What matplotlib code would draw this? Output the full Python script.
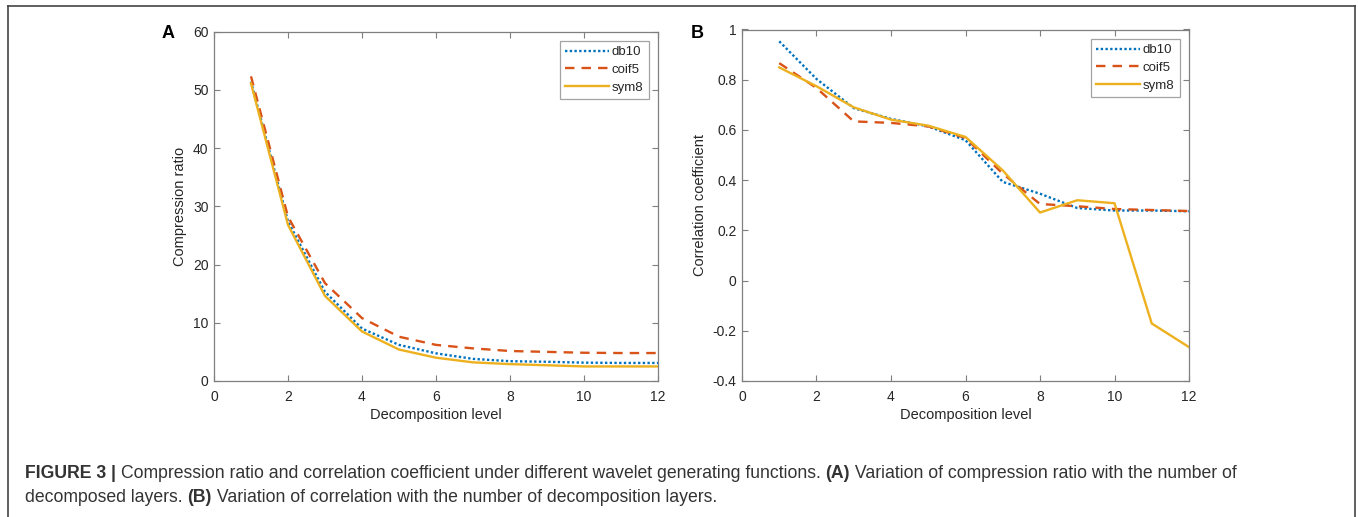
import matplotlib
matplotlib.use("Agg")
import matplotlib.pyplot as plt
from matplotlib.lines import Line2D

plt.rcParams['font.family'] = ['Liberation Sans', 'DejaVu Sans']

levels = [1, 2, 3, 4, 5, 6, 7, 8, 9, 10, 11, 12]
series_names = ["db10", "coif5", "sym8"]

cr_db10 = [51.4, 27.4, 15.3, 9.0, 6.2, 4.75, 3.8, 3.4, 3.3, 3.15, 3.1, 3.1]
cr_coif5 = [52.3, 28.2, 16.8, 10.8, 7.6, 6.2, 5.6, 5.15, 5.0, 4.85, 4.8, 4.8]
cr_sym8 = [51.1, 26.8, 14.6, 8.5, 5.4, 4.0, 3.2, 2.9, 2.7, 2.5, 2.5, 2.5]

cc_db10 = [0.953, 0.803, 0.687, 0.644, 0.614, 0.559, 0.393, 0.346, 0.289, 0.279, 0.279, 0.276]
cc_coif5 = [0.866, 0.767, 0.634, 0.628, 0.614, 0.568, 0.426, 0.305, 0.296, 0.285, 0.281, 0.277]
cc_sym8 = [0.849, 0.774, 0.690, 0.641, 0.617, 0.572, 0.439, 0.271, 0.320, 0.308, -0.171, -0.265]

xticks = [0, 2, 4, 6, 8, 10, 12]
yticks_a = [0, 10, 20, 30, 40, 50, 60]
yticks_b = [-0.4, -0.2, 0, 0.2, 0.4, 0.6, 0.8, 1]
yticklabels_b = ["-0.4", "-0.2", "0", "0.2", "0.4", "0.6", "0.8", "1"]

colors = ["#0072BD", "#D95319", "#EDB120"]
styles = [(0, (1, 1)), (0, (4, 3)), '-']

W, H = 1358, 517
fig = plt.figure(figsize=(W / 100, H / 100), dpi=100)

def px_axes(left, top, right, bottom):
    return fig.add_axes([left / W, 1 - bottom / H, (right - left) / W, (bottom - top) / H])

axA = px_axes(214, 31.5, 658, 381)
axB = px_axes(742, 29.5, 1189, 381)

tick_color = '#262626'
spine_color = '#7f7f7f'

def style(ax):
    for s in ax.spines.values():
        s.set_color(spine_color)
        s.set_linewidth(0.9)
    ax.tick_params(direction='in', length=4, width=0.8, color=spine_color,
                   labelcolor=tick_color, labelsize=10, top=True, right=True)
    ax.tick_params(axis='x', pad=6.5)
    ax.tick_params(axis='y', pad=4)

for ax, data, yl, ylim, yt in [
    (axA, [cr_db10, cr_coif5, cr_sym8], "Compression ratio", (0, 60), yticks_a),
    (axB, [cc_db10, cc_coif5, cc_sym8], "Correlation coefficient", (-0.4, 1), yticks_b),
]:
    for vals, c, ls, name in zip(data, colors, styles, series_names):
        ax.plot(levels, vals, color=c, linestyle=ls, linewidth=1.7, label=name)
    ax.set_xlim(0, 12)
    ax.set_ylim(*ylim)
    ax.set_xticks(xticks)
    ax.set_yticks(yt)
    ax.set_xlabel("Decomposition level", fontsize=10.5, color=tick_color, labelpad=3)
    ax.set_ylabel(yl, fontsize=10.5, color=tick_color, labelpad=4)
    style(ax)
    leg = ax.legend(loc='upper right', fontsize=9.5, frameon=True, fancybox=False,
                    handlelength=3.3, handletextpad=0.25, borderpad=0.4,
                    labelspacing=0.42, borderaxespad=0.7)
    leg.get_frame().set_edgecolor('#8c8c8c')
    leg.get_frame().set_linewidth(0.9)
    for t in leg.get_texts():
        t.set_color(tick_color)

axB.set_yticklabels(yticklabels_b)

fig.text(162 / W, 1 - 33 / H, "A", fontsize=13, fontweight='bold', ha='left', va='center')
fig.text(691 / W, 1 - 33 / H, "B", fontsize=13, fontweight='bold', ha='left', va='center')

# frame around figure
for (x0, y0, x1, y1) in [(8, 6, 1355, 6), (8, 6, 8, 517), (1355, 6, 1355, 517)]:
    fig.add_artist(Line2D([x0 / W, x1 / W], [1 - y0 / H, 1 - y1 / H], color='#444444', linewidth=1.2))

# caption
cap_color = '#333333'
cap_size = 12.7
lines = [
    [("FIGURE 3 | ", 'bold'),
     ("Compression ratio and correlation coefficient under different wavelet generating functions. ", 'normal'),
     ("(A)", 'bold'),
     (" Variation of compression ratio with the number of", 'normal')],
    [("decomposed layers. ", 'normal'), ("(B)", 'bold'),
     (" Variation of correlation with the number of decomposition layers.", 'normal')],
]
fig.canvas.draw()
renderer = fig.canvas.get_renderer()
ys = [474, 497]
for segs, y in zip(lines, ys):
    x = 25
    for txt, wt in segs:
        t = fig.text(x / W, 1 - y / H, txt, fontsize=cap_size, fontweight=wt,
                     color=cap_color, ha='left', va='center')
        bb = t.get_window_extent(renderer=renderer)
        x += bb.width

fig.savefig("out.png", dpi=100)
